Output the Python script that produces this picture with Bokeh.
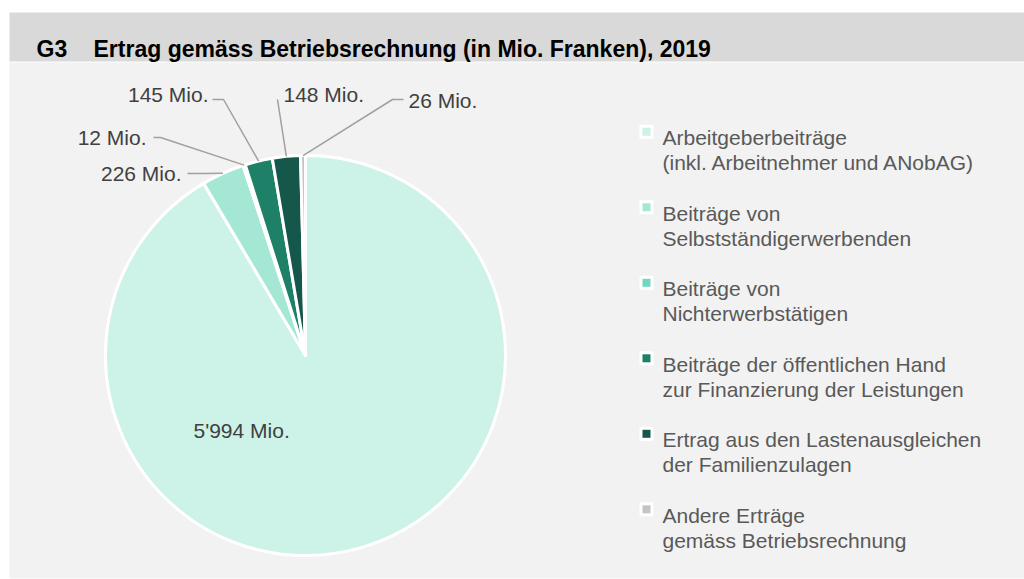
import math
from bokeh.plotting import figure
from bokeh.models import ColumnDataSource, Range1d
from bokeh.embed import file_html
from bokeh.resources import INLINE
from bokeh.core.properties import value

# ---------------- data ----------------
chart_id = "G3"
title = "Ertrag gemäss Betriebsrechnung (in Mio. Franken), 2019"
categories = [
    "Arbeitgeberbeiträge\n(inkl. Arbeitnehmer und ANobAG)",
    "Beiträge von\nSelbstständigerwerbenden",
    "Beiträge von\nNichterwerbstätigen",
    "Beiträge der öffentlichen Hand\nzur Finanzierung der Leistungen",
    "Ertrag aus den Lastenausgleichen\nder Familienzulagen",
    "Andere Erträge\ngemäss Betriebsrechnung",
]
values = [5994, 226, 12, 145, 148, 26]
colors = ["#cdf2e7", "#a4e7d5", "#72d7be", "#1f8068", "#15574a", "#c4c4c4"]

# ---------------- layout (screen px, y downward) ----------------
W, H = 1024, 579
def Y(sy):
    return H - sy

CX, CY, R = 305, 355, 200
FONT = "Liberation Sans"

# label placement: text anchor x, baseline y, alignment, connector points (text side, elbow)
label_layout = [
    dict(tx=193, ty=430, align="left", conn=None),
    dict(tx=181, ty=173, align="right", conn=[(187, 173), (203, 173)]),
    dict(tx=146, ty=137, align="right", conn=[(153, 137), (160, 137)]),
    dict(tx=208, ty=94, align="right", conn=[(212, 99), (223, 99)]),
    dict(tx=283, ty=94, align="left", conn=[(277, 99), (277, 99)]),
    dict(tx=408, ty=100, align="left", conn=[(403, 99), (392, 99)]),
]

p = figure(width=W, height=H, x_range=Range1d(0, W), y_range=Range1d(0, H),
           output_backend="svg", toolbar_location=None, min_border=0)
p.axis.visible = False
p.grid.visible = False
p.outline_line_color = None
p.background_fill_color = "white"
p.border_fill_color = "white"

# panels
p.quad(left=[9], right=[W], top=[Y(12)], bottom=[Y(61)], fill_color="#d9d9d9", line_color=None)
p.quad(left=[9], right=[W], top=[Y(62)], bottom=[Y(578)], fill_color="#f2f2f2", line_color=None)

# title
p.text(x=[36], y=[Y(48)], text=[chart_id], text_font=value(FONT), text_font_size="23px",
       text_font_style="bold", text_color="#000000", text_baseline="alphabetic")
p.text(x=[93], y=[Y(48)], text=[title], text_font=value(FONT), text_font_size="23px",
       text_font_style="bold", text_color="#000000", text_baseline="alphabetic")

# pie
total = float(sum(values))
starts, ends, mids = [], [], []
cum = 0.0
for v in values:
    a0 = cum / total * 2 * math.pi
    cum += v
    a1 = cum / total * 2 * math.pi
    starts.append(math.pi / 2 - a0)
    ends.append(math.pi / 2 - a1)
    mids.append((a0 + a1) / 2)

src = ColumnDataSource(dict(x=[CX] * len(values), y=[Y(CY)] * len(values),
                            start=starts, end=ends, color=colors, cat=categories))
p.wedge(x="x", y="y", radius=R, start_angle="start", end_angle="end", direction="clock",
        fill_color="color", line_color="white", line_width=3, line_join="round", source=src)

# labels and connectors
for i, v in enumerate(values):
    lay = label_layout[i]
    txt = f"{v:,}".replace(",", "'") + " Mio."
    p.text(x=[lay["tx"]], y=[Y(lay["ty"])], text=[txt], text_font=value(FONT),
           text_font_size="21px", text_color="#404040", text_align=lay["align"],
           text_baseline="alphabetic")
    if lay["conn"]:
        m = mids[i]
        px = CX + R * math.sin(m)
        py = CY - R * math.cos(m)
        pts = lay["conn"] + [(px, py)]
        p.line(x=[q[0] for q in pts], y=[Y(q[1]) for q in pts], line_color="#a0a0a0",
               line_width=1.5)

# legend
LX, LY0, LSTEP, LLINE = 646, 137.3, 75.5, 25
for i, cat in enumerate(categories):
    base = LY0 + i * LSTEP
    p.scatter(x=[LX], y=[Y(base - 6)], marker="square", size=14, fill_color="white", line_color=None)
    p.scatter(x=[LX], y=[Y(base - 6)], marker="square", size=8, fill_color=colors[i], line_color=None)
    for j, line in enumerate(cat.split("\n")):
        p.text(x=[662], y=[Y(base + j * LLINE)], text=[line], text_font=value(FONT),
               text_font_size="21px", text_color="#595959", text_baseline="alphabetic")

open("out.html", "w").write(file_html(p, INLINE))
